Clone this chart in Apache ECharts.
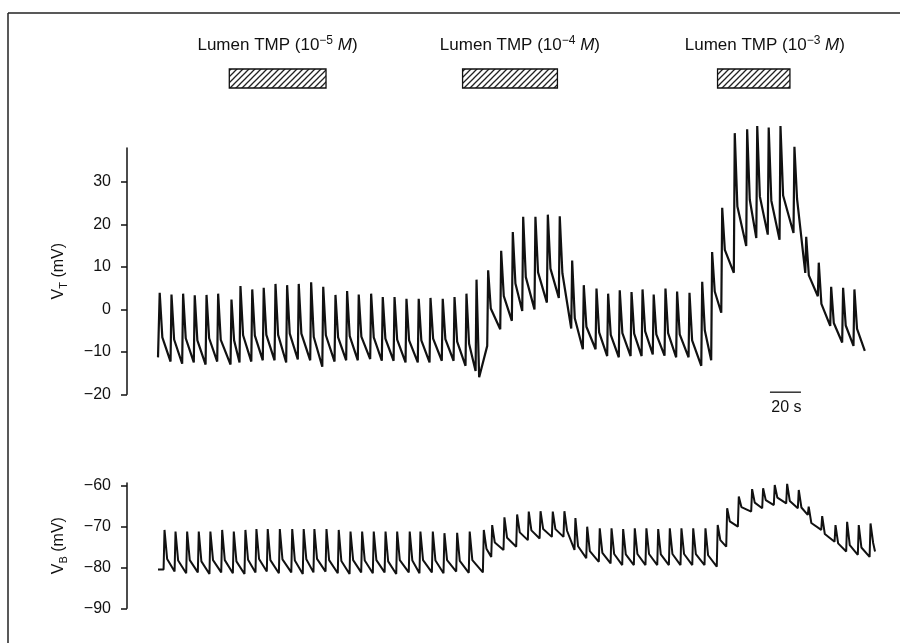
<!DOCTYPE html>
<html><head><meta charset="utf-8">
<script src="https://cdn.jsdelivr.net/npm/echarts@6/dist/echarts.min.js"></script>
<style>html,body{margin:0;padding:0;background:#fff}#c{width:900px;height:643px}</style>
</head><body><div id="c"></div>
<script>
// ---------- DATA (time in s, voltage in mV) ----------
// Transepithelial voltage V_T trace: spike onset times, peak, value ~2 s after peak, trough before next spike
const vtStart = [0, -11.3];
const vtEndTime = 456;
const vtSpikeTime = [0.8, 8.4, 15.9, 23.4, 31.0, 38.5, 47.1, 52.9, 60.5, 67.9,
  75.5, 83.0, 90.5, 98.5, 106.3, 114.2, 121.7, 129.2, 137.2, 144.7,
  152.3, 160.0, 167.9, 175.5, 183.4, 191.0, 198.7, 205.2, 212.7, 221.1,
  228.6, 235.3, 243.2, 251.2, 258.9, 266.9, 274.4, 282.6, 290.1, 297.6,
  305.2, 312.3, 319.5, 327.1, 334.6, 342.6, 350.8, 357.2, 363.7, 371.8,
  379.8, 386.3, 393.7, 401.3, 410.3, 417.9, 426.0, 434.0, 441.7, 449.0];
const vtPeak = [3.9, 3.5, 3.7, 3.3, 3.4, 3.7, 2.3, 5.5, 4.7, 5.1,
  6.0, 5.7, 6.0, 6.4, 5.3, 3.4, 4.3, 3.5, 3.7, 2.9,
  2.9, 2.5, 2.5, 2.7, 2.5, 2.9, 3.7, 7.0, 9.2, 13.8,
  18.2, 21.8, 21.8, 22.3, 21.9, 11.5, 5.7, 4.9, 3.7, 4.5,
  4.1, 4.7, 3.5, 4.9, 4.2, 3.9, 6.5, 13.5, 23.9, 41.5,
  42.4, 43.2, 42.8, 43.2, 38.3, 17.1, 11.0, 5.3, 5.1, 4.7];
const vtMid = [-6.6, -7.1, -6.8, -7.3, -6.8, -7.2, -7.3, -6.1, -6.2, -6.0,
  -6.0, -5.7, -5.7, -6.5, -6.1, -6.6, -6.3, -6.4, -6.6, -6.9,
  -7.1, -7.3, -7.3, -6.9, -7.0, -7.6, -8.1, -16.0, 0.2, 3.1,
  6.1, 7.6, 8.7, 9.6, 8.5, -2.1, -4.1, -5.4, -6.0, -5.6,
  -5.7, -5.2, -5.9, -5.6, -5.9, -7.3, -5.0, 4.2, 14.0, 24.2,
  25.8, 26.6, 25.6, 26.8, 26.0, 8.0, 1.3, -3.2, -3.8, -4.6];
const vtTrough = [-12.3, -12.8, -12.5, -13.0, -12.3, -13.0, -12.5, -12.3, -12.0, -12.0,
  -12.5, -11.8, -12.0, -13.5, -12.3, -12.0, -12.0, -11.7, -12.1, -12.1,
  -12.5, -12.5, -12.5, -12.1, -12.1, -13.3, -14.5, -8.6, -4.7, -2.7,
  -0.4, 0.0, 1.6, 2.7, -4.5, -9.4, -9.4, -11.0, -11.3, -11.0,
  -11.0, -10.6, -10.9, -11.3, -11.3, -13.3, -12.0, -0.8, 8.6, 14.9,
  16.8, 17.6, 16.4, 18.0, 8.6, 3.1, -3.9, -7.8, -8.6, -9.8];

// Basolateral voltage V_B trace
const vbStart = [0, -80.5];
const vbEndTime = 462.6;
const vbSpikeTime = [3.9, 11.0, 18.5, 26.0, 33.5, 41.1, 48.6, 56.1, 63.2, 70.5,
  78.3, 86.3, 93.7, 100.6, 108.4, 116.3, 123.9, 131.4, 138.9, 146.5,
  154.0, 162.1, 169.0, 177.0, 184.5, 192.7, 200.8, 209.9, 215.3, 223.2,
  231.4, 238.9, 246.5, 254.4, 261.9, 269.0, 276.6, 284.7, 292.3, 299.8,
  307.3, 314.8, 322.4, 329.9, 337.4, 345.0, 352.9, 360.8, 366.9, 374.4,
  383.0, 390.1, 397.6, 405.6, 413.1, 419.5, 428.2, 436.8, 444.3, 451.8, 459.4];
const vbPeak = [-70.8, -71.2, -71.2, -71.2, -71.2, -70.8, -71.2, -70.8, -70.6, -70.6,
  -70.6, -70.6, -70.6, -70.6, -70.6, -70.8, -71.2, -71.2, -71.2, -71.2,
  -71.2, -71.2, -71.2, -71.2, -71.6, -71.5, -71.2, -70.8, -69.6, -67.7,
  -67.0, -66.3, -66.2, -66.3, -66.2, -67.9, -70.0, -70.4, -70.4, -70.6,
  -70.4, -70.4, -70.6, -70.4, -70.4, -70.4, -70.4, -69.6, -65.5, -62.6,
  -60.8, -60.6, -59.8, -59.5, -61.0, -65.1, -67.4, -69.6, -68.8, -69.6, -69.2];
const vbMid = [-77.9, -78.3, -78.2, -78.5, -78.2, -78.2, -78.5, -78.1, -77.9, -78.2,
  -78.0, -78.3, -78.0, -77.9, -78.2, -78.4, -78.2, -78.3, -78.2, -78.5,
  -78.2, -78.3, -78.2, -78.3, -78.2, -78.4, -78.2, -75.4, -73.9, -72.7,
  -71.4, -70.9, -70.6, -70.6, -71.0, -74.8, -76.0, -76.4, -76.7, -76.8,
  -76.7, -76.7, -76.8, -76.7, -76.7, -76.7, -77.0, -73.3, -68.7, -65.2,
  -64.1, -63.5, -62.9, -63.7, -65.3, -69.1, -71.8, -74.1, -74.5, -75.1, -74.0];
const vbTrough = [-81.0, -81.4, -81.2, -81.6, -81.2, -81.4, -81.6, -81.2, -81.0, -81.4,
  -81.2, -81.6, -81.2, -81.0, -81.4, -81.6, -81.2, -81.4, -81.2, -81.6,
  -81.2, -81.4, -81.2, -81.4, -81.0, -81.3, -81.2, -77.4, -75.7, -74.9,
  -73.3, -72.9, -72.5, -72.5, -75.7, -77.7, -78.6, -79.0, -79.4, -79.4,
  -79.4, -79.4, -79.4, -79.4, -79.4, -79.4, -79.8, -74.9, -70.0, -66.3,
  -65.5, -64.7, -64.3, -65.5, -67.1, -70.8, -73.7, -76.1, -76.9, -77.4, -76.1];

// Axis ticks
const vtTicks = [-20, -10, 0, 10, 20, 30];
const vbTicks = [-90, -80, -70, -60];

// Lumen TMP application periods
const tmpStart = [46.0, 196.5, 361.0];
const tmpEnd = [108.4, 257.7, 407.7];
const tmpLabelTime = [77.1, 233.5, 391.5];
const tmpExponent = ['−5', '−4', '−3'];

// Time scale bar
const scaleBarStart = 394.8;
const scaleBarLength = 20;
const scaleBarLevel = -19.5;
const scaleBarText = '20 s';

// ---------- BUILD ----------
const FONT = "'Liberation Sans', Arial, Helvetica, sans-serif";
const INK = '#111';

function buildTrace(start, times, peaks, mids, troughs, endTime) {
  const pts = [start];
  for (let i = 0; i < times.length; i++) {
    pts.push([times[i] - 0.3, i === 0 ? start[1] : troughs[i - 1]]);
    pts.push([times[i] + 0.3, peaks[i]]);
    pts.push([times[i] + 2.0, mids[i]]);
  }
  pts.push([endTime, troughs[troughs.length - 1]]);
  return pts;
}
const vtData = buildTrace(vtStart, vtSpikeTime, vtPeak, vtMid, vtTrough, vtEndTime);
const vbData = buildTrace(vbStart, vbSpikeTime, vbPeak, vbMid, vbTrough, vbEndTime);

const hatch = document.createElement('canvas');
hatch.width = 6; hatch.height = 6;
(function () {
  const g = hatch.getContext('2d');
  g.fillStyle = '#fff'; g.fillRect(0, 0, 6, 6);
  g.strokeStyle = '#222'; g.lineWidth = 1.3;
  g.beginPath();
  g.moveTo(-1, 7); g.lineTo(7, -1);
  g.moveTo(-4, 4); g.lineTo(4, -4);
  g.moveTo(2, 10); g.lineTo(10, 2);
  g.stroke();
})();

const minusFmt = v => String(v).replace('-', '−');
const tMin = -20, tMax = 470;

const chart = echarts.init(document.getElementById('c'), null, {renderer: 'canvas'});
const yAxisCommon = (ticks, name) => ({
  type: 'value',
  axisLine: {show: true, onZero: false, lineStyle: {color: INK, width: 1.5}},
  axisTick: {show: true, inside: false, length: 6, customValues: ticks, lineStyle: {color: INK, width: 1.5}},
  axisLabel: {customValues: ticks, margin: 16, fontSize: 16, color: INK, fontFamily: FONT, formatter: minusFmt},
  splitLine: {show: false},
  name: name, nameLocation: 'middle', nameGap: 58, nameRotate: 90,
  nameTextStyle: {fontSize: 16, color: INK, fontFamily: FONT, lineHeight: 20,
    rich: {sub: {fontSize: 11, color: INK, fontFamily: FONT, verticalAlign: 'bottom', lineHeight: 8}}}
});

chart.setOption({
  animation: false,
  backgroundColor: '#fff',
  grid: [
    {left: 127, right: 13.5, top: 148, height: 246.3, outerBoundsMode: 'none'},
    {left: 127, right: 13.5, top: 483, height: 125.3, outerBoundsMode: 'none'},
    {left: 127, right: 13.5, top: 69, height: 19, outerBoundsMode: 'none'}
  ],
  xAxis: [0, 1, 2].map(i => ({gridIndex: i, type: 'value', min: tMin, max: tMax, show: false})),
  yAxis: [
    Object.assign({gridIndex: 0, min: -20, max: 38}, yAxisCommon(vtTicks, 'V{sub|T} (mV)')),
    Object.assign({gridIndex: 1, min: -90, max: -59.3}, yAxisCommon(vbTicks, 'V{sub|B} (mV)')),
    {gridIndex: 2, type: 'value', min: 0, max: 1, show: false}
  ],
  graphic: [
    {type: 'line', shape: {x1: 8, y1: 13, x2: 900, y2: 13}, style: {stroke: '#222', lineWidth: 1.5}},
    {type: 'line', shape: {x1: 8, y1: 13, x2: 8, y2: 643}, style: {stroke: '#222', lineWidth: 1.5}}
  ],
  series: [
    {type: 'line', xAxisIndex: 0, yAxisIndex: 0, data: vtData, showSymbol: false, symbol: 'none',
      clip: false, lineStyle: {color: INK, width: 2.2}, silent: true},
    {type: 'line', xAxisIndex: 1, yAxisIndex: 1, data: vbData, showSymbol: false, symbol: 'none',
      clip: false, lineStyle: {color: INK, width: 2.0}, silent: true},
    {type: 'custom', xAxisIndex: 2, yAxisIndex: 2, clip: false, silent: true,
      data: tmpStart.map((s, i) => [s, tmpEnd[i], tmpLabelTime[i]]),
      renderItem: function (params, api) {
        const p0 = api.coord([api.value(0), 1]);
        const p1 = api.coord([api.value(1), 0]);
        const pc = api.coord([api.value(2), 1]);
        return {type: 'group', children: [
          {type: 'rect', shape: {x: p0[0], y: p0[1], width: p1[0] - p0[0], height: p1[1] - p0[1]},
            style: {fill: {image: hatch, repeat: 'repeat'}, stroke: INK, lineWidth: 1.3}},
          {type: 'text', style: {x: pc[0], y: p0[1] - 24,
            text: 'Lumen TMP (10{sup|' + tmpExponent[params.dataIndex] + '} {it|M})',
            align: 'center', verticalAlign: 'middle', fill: INK,
            fontSize: 17, fontFamily: FONT, lineHeight: 21,
            rich: {sup: {fontSize: 12, fontFamily: FONT, fill: INK, verticalAlign: 'top', lineHeight: 9},
                   it: {fontSize: 17, fontFamily: FONT, fill: INK, fontStyle: 'italic'}}}}
        ]};
      }
    },
    {type: 'custom', xAxisIndex: 0, yAxisIndex: 0, clip: false, silent: true,
      data: [[scaleBarStart, scaleBarStart + scaleBarLength, scaleBarLevel]],
      renderItem: function (params, api) {
        const a = api.coord([api.value(0), api.value(2)]);
        const b = api.coord([api.value(1), api.value(2)]);
        return {type: 'group', children: [
          {type: 'line', shape: {x1: a[0], y1: a[1], x2: b[0], y2: b[1]}, style: {stroke: INK, lineWidth: 1.3}},
          {type: 'text', style: {x: (a[0] + b[0]) / 2 + 1, y: a[1] + 15, text: scaleBarText, align: 'center',
            verticalAlign: 'middle', fill: INK, fontSize: 16, fontFamily: FONT}}
        ]};
      }
    }
  ]
});
</script>
</body></html>
